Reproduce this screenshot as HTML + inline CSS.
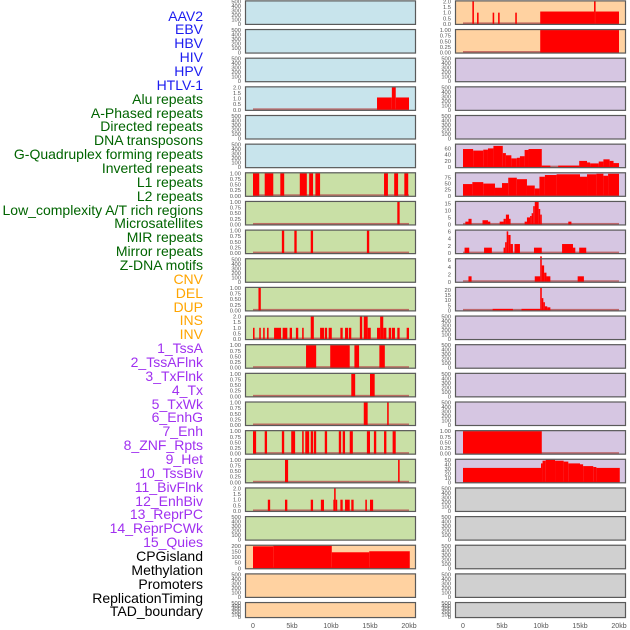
<!DOCTYPE html>
<html><head><meta charset="utf-8">
<style>
html,body{margin:0;padding:0;background:#fff;}
#wrap{position:relative;width:630px;height:630px;overflow:hidden;font-family:"Liberation Sans",sans-serif;}
.lbl{position:absolute;right:427px;font-size:14px;line-height:14px;white-space:nowrap;}
svg{position:absolute;left:0;top:0;}
</style></head><body>
<div id="wrap">
<div id="labels"></div>
<svg id="chart" width="630" height="630"></svg>
</div>
<script>
const labelNames = ["AAV2","EBV","HBV","HIV","HPV","HTLV-1","Alu repeats","A-Phased repeats","Directed repeats","DNA transposons","G-Quadruplex forming repeats","Inverted repeats","L1 repeats","L2 repeats","Low_complexity A/T rich regions","Microsatellites","MIR repeats","Mirror repeats","Z-DNA motifs","CNV","DEL","DUP","INS","INV","1_TssA","2_TssAFlnk","3_TxFlnk","4_Tx","5_TxWk","6_EnhG","7_Enh","8_ZNF_Rpts","9_Het","10_TssBiv","11_BivFlnk","12_EnhBiv","13_ReprPC","14_ReprPCWk","15_Quies","CPGisland","Methylation","Promoters","ReplicationTiming","TAD_boundary"];
const labelGroups = ["v","v","v","v","v","v","r","r","r","r","r","r","r","r","r","r","r","r","r","c","c","c","c","c","h","h","h","h","h","h","h","h","h","h","h","h","h","h","h","k","k","k","k","k"];
const xTickLabels = ["0","5kb","10kb","15kb","20kb"];
const xTickValues = [0,5,10,15,20];

const E = ["0","100","200","300","400","500"], EV=[0,100,200,300,400,500];
const P1 = ["0.00","0.25","0.50","0.75","1.00"], P1V=[0,0.25,0.5,0.75,1];
const T2 = ["0.0","0.5","1.0","1.5","2.0"], T2V=[0,0.5,1,1.5,2];

const leftAlu = [[15.9,17.8,1.1],[17.8,18.3,2],[18.3,20,1.1]];
const leftL1 = [[0,0.8,1],[1.5,2.6,1],[3.5,4.0,1],[6.0,6.9,1],[7.2,7.7,1],[8.0,8.6,1],[16.8,17.3,1],[18.1,18.6,1],[19.4,19.9,1]];
const leftR8 = [[18.5,18.8,1]];
const leftR9 = [[3.7,4.0,1],[5.3,5.6,1],[7.4,7.7,1],[14.6,14.9,1]];
const leftR11 = [[0.7,1.0,1]];
const leftR12 = [[0,0.2,1],[0.8,1.0,1],[1.3,1.5,1],[1.8,2.0,1],[2.7,3.6,1],[3.8,4.4,1],[4.7,5.0,1],[5.5,5.8,1],[6.3,6.5,1],[7.4,7.8,2],[8.6,9.1,1],[9.2,9.5,1],[9.7,10.1,1],[11.2,11.5,1],[11.8,12.2,1],[12.3,12.6,1],[13.7,14.0,2],[14.2,14.7,2],[14.7,15.1,1],[15.9,16.3,1],[16.3,16.7,2],[16.7,17.1,1],[17.4,17.7,1],[17.8,18.2,1],[18.5,18.8,1],[19.7,20.0,1]];
const leftR13 = [[6.8,8.1,1],[9.9,12.4,1],[13.0,13.6,1],[16.2,16.9,1]];
const leftR14 = [[12.6,13.1,1],[15.0,15.6,1]];
const leftR15 = [[14.2,14.7,1],[17.2,17.4,1]];
const leftR16 = [[0,0.4,1],[1.5,1.8,1],[3.7,4.0,1],[4.9,5.4,1],[6.3,6.5,1],[6.7,7.2,1],[7.4,7.7,1],[7.8,8.1,1],[9.2,9.5,1],[11.0,11.3,1],[11.5,11.8,1],[12.4,12.8,1],[14.6,15.0,1],[15.5,15.8,1],[16.8,17.1,1],[17.9,18.3,1]];
const leftR17 = [[4.1,4.5,1],[18.6,18.8,1]];
const leftR18 = [[1.9,2.2,1],[4.1,4.4,1],[7.4,7.7,1],[8.7,9.1,1],[10.3,10.4,1],[10.4,10.6,2],[10.6,10.8,1],[11.2,11.5,1],[11.8,12.4,1],[12.6,12.9,1],[14.4,14.6,1],[15.0,15.4,1]];
const leftCpg = [[0,2.6,195],[2.6,10.1,200],[10.1,14.9,142],[14.9,20.1,151]];

const rightR1 = [[1.2,1.4,2],[1.8,2.0,1],[3.8,4.0,1],[4.5,4.7,1],[6.7,6.9,1],[9.9,16.8,1.1],[16.8,17.0,2],[17.0,20,1.1]];
const rightR2 = [[9.9,20,1]];
const rightG4 = [[0,1.3,58],[1.3,2.6,53],[2.6,3.2,56],[3.2,3.9,60],[3.9,5.1,68],[5.1,5.5,45],[5.5,6.2,38],[6.2,6.9,28],[6.9,7.3,30],[7.3,7.9,35],[7.9,8.4,55],[8.4,10.1,58],[10.1,11.2,5],[12.2,14.9,5],[14.9,15.9,20],[15.9,16.3,15],[16.3,17.4,12],[17.4,18.0,18],[18.0,18.8,25],[18.8,19.3,20],[19.3,20,13]];
const rightL1 = [[0,1.2,48],[1.2,2.6,56],[2.6,4.1,50],[4.1,5.0,33],[5.0,5.8,52],[5.8,6.9,74],[6.9,8.2,68],[8.2,9.2,42],[9.2,9.8,30],[9.8,10.5,78],[10.5,12.0,85],[12.0,15.0,88],[15.0,15.9,78],[15.9,17.1,88],[17.1,18.0,90],[18.0,18.6,82],[18.6,20,90]];
const rightR8 = [[0.3,0.7,2],[0.7,1.1,4],[2.5,3.2,3],[3.2,3.5,2],[4.7,5.2,2],[5.2,5.5,4],[5.5,5.9,7],[5.9,6.1,4],[7.9,8.2,2],[8.2,8.6,5],[8.6,8.8,6],[8.8,9.0,8],[9.0,9.2,13],[9.2,9.7,16],[9.7,9.9,11],[9.9,10.1,7],[13.5,13.9,2]];
const rightR9 = [[0.2,0.8,1.5],[2.7,3.7,1.5],[5.2,5.4,1.5],[5.4,5.6,3],[5.6,5.8,6],[5.8,6.1,5],[6.1,6.4,2.5],[6.6,7.3,2.5],[9.1,10.1,1.5],[12.7,14.1,2.5],[14.1,14.4,1.5],[14.9,15.8,1.5]];
const rightR10 = [[0.7,1.1,1.5],[9.2,9.9,1.5],[9.9,10.1,7],[10.1,10.4,4.5],[10.4,10.7,2.5],[10.7,11.2,1.5],[14.7,15.5,1.5]];
const rightR11 = [[3.8,6.4,1.5],[7.5,9.9,1.5],[9.9,10.1,22],[10.1,10.3,12],[10.3,10.5,8],[10.5,10.8,4],[10.8,11.2,3]];
const rightR16 = [[0,10.1,1]];
const rightR17 = [[0,10.0,32],[10.0,10.2,42],[10.2,10.6,48],[10.6,11.8,50],[11.8,12.9,48],[12.9,13.5,46],[13.5,15.0,42],[15.0,15.4,40],[15.4,16.7,36],[16.7,17.1,34],[17.1,20.1,32]];

const B="#c8e4ec",G="#c9e0a6",O="#ffd2a1",U="#d6c6e2",Y="#d0d0d0";
function P(bg,ymax,tl,tv,segs,name){return {bg,ymax,tl,tv,segs,name};}
const leftPanels = [
 P(B,500,E,EV,[],"aav2"),P(B,500,E,EV,[],"ebv"),P(B,500,E,EV,[],"hbv"),
 P(B,2,T2,T2V,leftAlu,"hiv"),P(B,500,E,EV,[],"hpv"),P(B,500,E,EV,[],"htlv"),
 P(G,1,P1,P1V,leftL1,"alu"),P(G,1,P1,P1V,leftR8,"a-phased"),P(G,1,P1,P1V,leftR9,"directed"),
 P(G,500,E,EV,[],"dna-transposons"),P(G,1,P1,P1V,leftR11,"g-quadruplex"),P(G,2,T2,T2V,leftR12,"inverted"),
 P(G,1,P1,P1V,leftR13,"l1"),P(G,1,P1,P1V,leftR14,"l2"),P(G,1,P1,P1V,leftR15,"low-complexity"),
 P(G,1,P1,P1V,leftR16,"microsatellites"),P(G,1,P1,P1V,leftR17,"mir"),P(G,2,T2,T2V,leftR18,"mirror"),
 P(G,500,E,EV,[],"z-dna"),P(O,200,["0","50","100","150","200"],[0,50,100,150,200],leftCpg,"cnv"),
 P(O,500,E,EV,[],"del"),P(O,500,E,EV,[],"dup")];
const rightPanels = [
 P(O,2,T2,T2V,rightR1,"ins"),P(O,1,P1,P1V,rightR2,"inv"),P(U,500,E,EV,[],"tssa"),
 P(U,500,E,EV,[],"tssaflnk"),P(U,500,E,EV,[],"txflnk"),P(U,72,["0","20","40","60"],[0,20,40,60],rightG4,"tx"),
 P(U,92,["0","25","50","75"],[0,25,50,75],rightL1,"txwk"),P(U,16,["0","5","10","15"],[0,5,10,15],rightR8,"enhg"),
 P(U,6.2,["0","2","4","6"],[0,2,4,6],rightR9,"enh"),P(U,6.2,["0","2","4","6"],[0,2,4,6],rightR10,"znf-rpts"),
 P(U,22,["0","5","10","15","20"],[0,5,10,15,20],rightR11,"het"),P(U,500,E,EV,[],"tssbiv"),
 P(U,500,E,EV,[],"bivflnk"),P(U,500,E,EV,[],"enhbiv"),P(U,500,E,EV,[],"reprpc"),
 P(U,1,P1,P1V,rightR16,"reprpcwk"),P(U,50,["0","10","20","30","40","50"],[0,10,20,30,40,50],rightR17,"quies"),
 P(Y,500,E,EV,[],"cpgisland"),P(Y,500,E,EV,[],"methylation"),P(Y,500,E,EV,[],"promoters"),
 P(Y,500,E,EV,[],"replication-timing"),P(Y,500,E,EV,[],"tad-boundary")];

const colors={v:"#1c1cf0",r:"#006400",c:"#ffa500",h:"#a030f0",k:"#000"};
const lab=document.getElementById('labels');
labelNames.forEach((t,i)=>{
 const d=document.createElement('div');
 d.className='lbl';d.textContent=t;d.style.top=(8.5+i*13.86)+'px';d.style.color=colors[labelGroups[i]];
 
 
 lab.appendChild(d);
});

const NS="http://www.w3.org/2000/svg";
const svg=document.getElementById('chart');
function mk(tag,a,parent){const e=document.createElementNS(NS,tag);for(const k in a)e.setAttribute(k,a[k]);(parent||svg).appendChild(e);return e;}
const cols=[{left:245,right:416,x0:253},{left:455,right:626,x0:463}];
const KB=7.8;
function rowTop(i){return 0.4+i*28.65;}
function rowH(i){return i===21?16:24.5;}
function drawCol(panels,c){
 const col=cols[c];
 const xs=v=>col.x0+v*KB;
 panels.forEach((p,i)=>{
  const top=rowTop(i),h=rowH(i);
  const g=mk('g',{});
  
  
  const ys=v=>top+h-1-v/p.ymax*(h-2);
  mk('rect',{x:col.left,y:top,width:col.right-col.left,height:h,fill:p.bg,stroke:'none'},g);
  if(p.segs.length){
   const bl=mk('rect',{x:xs(0),y:top+h-2.5,width:20*KB,height:1.6,fill:'#b85050',opacity:0.8},g);
   
   
  }
  p.segs.forEach(s=>{
   const r=mk('rect',{x:xs(s[0]),y:ys(s[2]),width:Math.max(1.5,xs(s[1])-xs(s[0])),height:ys(0)-ys(s[2]),fill:'#ff0000'},g);
   
   
  });
  mk('rect',{x:col.left+0.5,y:top+0.5,width:col.right-col.left-1,height:h-1,fill:'none',stroke:'#5a5a5a','stroke-width':1.2},g);
  p.tl.forEach((t,k)=>{
   const tx=mk('text',{x:col.left-4,y:ys(p.tv[k])+2,'font-size':5.8,'text-anchor':'end',fill:'#555','font-family':'Liberation Sans, sans-serif'},g);
   tx.textContent=t;
   
   
  });
 });
 xTickValues.forEach((v,k)=>{
  const t=mk('text',{x:xs(v),y:628,'font-size':7,'text-anchor':'middle',fill:'#555','font-family':'Liberation Sans, sans-serif'});
  t.textContent=xTickLabels[k];
  
  
 });
}
drawCol(leftPanels,0);
drawCol(rightPanels,1);
</script>
</body></html>
